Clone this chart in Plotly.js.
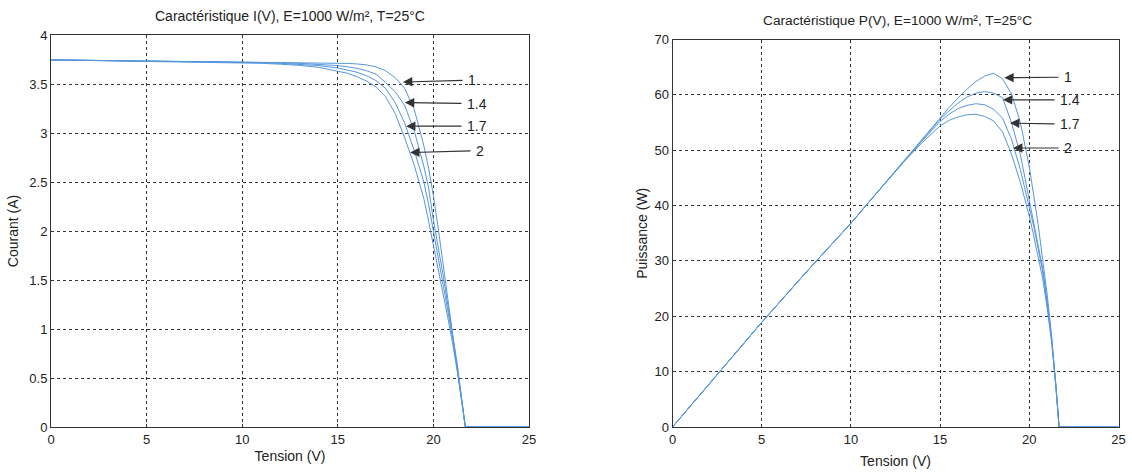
<!DOCTYPE html>
<html>
<head>
<meta charset="utf-8">
<script src="https://cdn.plot.ly/plotly-3.0.1.min.js"></script>
<style>
  html, body { margin: 0; padding: 0; background: #ffffff; }
  #chart { width: 1132px; height: 472px; }
</style>
</head>
<body>
<div id="chart"></div>
<script>
// ---- Data ----
const idealityLabels = ["1", "1.4", "1.7", "2"];

// I(V) characteristic
const voltIV = [0, 2, 4, 6, 8, 10, 11, 12, 13, 14, 15, 15.5, 16, 16.5, 17, 17.5, 18, 18.5, 19, 19.5, 19.75, 20, 20.25, 20.5, 20.75, 21, 21.25, 21.5, 21.67, 25];
const currN1  = [3.746, 3.742, 3.738, 3.734, 3.730, 3.726, 3.724, 3.722, 3.720, 3.717, 3.713, 3.710, 3.705, 3.695, 3.675, 3.635, 3.565, 3.455, 3.24, 2.87, 2.64, 2.36, 2.03, 1.68, 1.33, 0.98, 0.64, 0.27, 0, 0];
const currN14 = [3.746, 3.742, 3.738, 3.734, 3.729, 3.724, 3.721, 3.717, 3.711, 3.702, 3.688, 3.676, 3.660, 3.636, 3.600, 3.515, 3.42, 3.28, 3.02, 2.66, 2.44, 2.11, 1.84, 1.56, 1.25, 0.96, 0.64, 0.26, 0, 0];
const currN17 = [3.746, 3.742, 3.737, 3.733, 3.728, 3.722, 3.718, 3.711, 3.702, 3.688, 3.663, 3.645, 3.620, 3.585, 3.535, 3.455, 3.31, 3.10, 2.82, 2.50, 2.27, 2.00, 1.74, 1.47, 1.19, 0.91, 0.60, 0.245, 0, 0];
const currN2  = [3.746, 3.741, 3.736, 3.731, 3.725, 3.717, 3.711, 3.702, 3.690, 3.670, 3.635, 3.610, 3.575, 3.530, 3.470, 3.370, 3.20, 2.95, 2.67, 2.33, 2.10, 1.86, 1.63, 1.38, 1.12, 0.86, 0.57, 0.23, 0, 0];

// P(V) characteristic
const voltPV = [0, 2.5, 5, 7.5, 10, 11, 12, 13, 14, 15, 15.5, 16, 16.5, 17, 17.5, 18, 18.5, 19, 19.5, 20, 20.25, 20.5, 20.75, 21, 21.25, 21.5, 21.67, 25];
const powN1  = [0, 9.5, 18.9, 28.0, 36.8, 40.6, 44.4, 48.1, 51.9, 55.9, 57.7, 59.4, 61.0, 62.4, 63.4, 63.9, 62.9, 60.2, 55.0, 47.0, 42.0, 36.5, 30.2, 24.0, 16.5, 7.5, 0, 0];
const powN14 = [0, 9.5, 18.9, 28.0, 36.8, 40.6, 44.4, 48.1, 51.8, 55.6, 57.1, 58.5, 59.6, 60.3, 60.6, 60.3, 59.5, 55.0, 49.2, 41.0, 37.0, 32.6, 28.6, 22.8, 16.0, 7.3, 0, 0];
const powN17 = [0, 9.5, 18.9, 28.0, 36.8, 40.6, 44.4, 48.1, 51.7, 55.2, 56.5, 57.5, 58.1, 58.4, 58.2, 57.4, 55.8, 52.0, 46.5, 40.0, 36.2, 32.2, 28.0, 22.4, 15.8, 7.2, 0, 0];
const powN2  = [0, 9.5, 18.9, 28.0, 36.8, 40.6, 44.4, 48.0, 51.4, 54.4, 55.4, 56.0, 56.4, 56.5, 56.1, 55.3, 53.3, 49.3, 44.2, 38.1, 34.5, 30.8, 26.8, 21.5, 15.3, 7.0, 0, 0];

// Arrow annotations: tip (on curve) and label position, in data units
const ivArrowTipV   = [18.41, 18.51, 18.57, 18.78];
const ivArrowTipI   = [3.52, 3.31, 3.07, 2.80];
const ivLabelV      = [22.02, 22.28, 22.28, 22.44];
const ivLabelI      = [3.54, 3.30, 3.07, 2.82];
const pvArrowTipV   = [18.60, 18.52, 18.92, 19.09];
const pvArrowTipP   = [63.1, 59.1, 54.9, 50.4];
const pvLabelV      = [22.17, 22.28, 22.28, 22.17];
const pvLabelP      = [63.2, 59.1, 54.7, 50.4];

const titleIV = "Caractéristique I(V), E=1000 W/m², T=25°C";
const titlePV = "Caractéristique P(V), E=1000 W/m², T=25°C";

// ---- Build the figure ----
const FONT = "Liberation Sans, Arial, Helvetica, sans-serif";
const curveColor = "#5596dc";
const ivSeries = [currN1, currN14, currN17, currN2];
const pvSeries = [powN1, powN14, powN17, powN2];

const traces = [];
ivSeries.forEach((ys, k) => {
  traces.push({
    type: "scatter", mode: "lines", x: voltIV, y: ys,
    xaxis: "x", yaxis: "y", name: "n=" + idealityLabels[k],
    line: { color: curveColor, width: 1 }, showlegend: false, hoverinfo: "x+y"
  });
});
pvSeries.forEach((ys, k) => {
  traces.push({
    type: "scatter", mode: "lines", x: voltPV, y: ys,
    xaxis: "x2", yaxis: "y2", name: "n=" + idealityLabels[k],
    line: { color: curveColor, width: 1 }, showlegend: false, hoverinfo: "x+y"
  });
});

const W = 1132, H = 472;
const axisCommon = {
  showgrid: true, gridcolor: "#333333", griddash: "dot", gridwidth: 1,
  showline: true, mirror: true, linecolor: "#333333", linewidth: 1,
  zeroline: false, ticks: "inside", ticklen: 3, tickcolor: "#333333",
  tickfont: { family: FONT, size: 13, color: "#222222" },
  automargin: false, fixedrange: true
};
const titleFont = { family: FONT, size: 14, color: "#222222" };

const annotations = [];
idealityLabels.forEach((lab, k) => {
  annotations.push({
    xref: "x", yref: "y", x: ivArrowTipV[k], y: ivArrowTipI[k],
    axref: "x", ayref: "y", ax: ivLabelV[k], ay: ivLabelI[k],
    text: lab, showarrow: true, arrowhead: 2, arrowsize: 1.7, arrowwidth: 1.1,
    arrowcolor: "#333333", borderpad: 5,
    font: { family: FONT, size: 14, color: "#222222" }
  });
  annotations.push({
    xref: "x2", yref: "y2", x: pvArrowTipV[k], y: pvArrowTipP[k],
    axref: "x2", ayref: "y2", ax: pvLabelV[k], ay: pvLabelP[k],
    text: lab, showarrow: true, arrowhead: 2, arrowsize: 1.7, arrowwidth: 1.1,
    arrowcolor: "#333333", borderpad: 5,
    font: { family: FONT, size: 14, color: "#222222" }
  });
});
annotations.push({
  xref: "paper", yref: "paper", x: 290 / W, y: 1 - 16 / H, xanchor: "center", yanchor: "middle",
  text: titleIV, showarrow: false, font: { family: FONT, size: 14, color: "#222222" }
});
annotations.push({
  xref: "paper", yref: "paper", x: 897 / W, y: 1 - 21 / H, xanchor: "center", yanchor: "middle",
  text: titlePV, showarrow: false, font: { family: FONT, size: 13.7, color: "#222222" }
});

const layout = {
  width: W, height: H,
  margin: { l: 0, r: 0, t: 0, b: 0 },
  paper_bgcolor: "#ffffff", plot_bgcolor: "#ffffff",
  showlegend: false,
  font: { family: FONT, size: 13, color: "#222222" },
  xaxis: Object.assign({}, axisCommon, {
    domain: [51 / W, 529 / W], anchor: "y", range: [0, 25], tick0: 0, dtick: 5,
    title: { text: "Tension (V)", standoff: 5, font: titleFont }
  }),
  yaxis: Object.assign({}, axisCommon, {
    domain: [1 - 427 / H, 1 - 35 / H], anchor: "x", range: [0, 4], tick0: 0, dtick: 0.5,
    title: { text: "Courant (A)", standoff: 7, font: titleFont }
  }),
  xaxis2: Object.assign({}, axisCommon, {
    domain: [672.5 / W, 1118.5 / W], anchor: "y2", range: [0, 25], tick0: 0, dtick: 5,
    title: { text: "Tension (V)", standoff: 10, font: titleFont }
  }),
  yaxis2: Object.assign({}, axisCommon, {
    domain: [1 - 427 / H, 1 - 39.5 / H], anchor: "x2", range: [0, 70], tick0: 0, dtick: 10,
    title: { text: "Puissance (W)", standoff: 3, font: titleFont }
  }),
  annotations: annotations
};

Plotly.newPlot("chart", traces, layout, { displayModeBar: false, staticPlot: true });
</script>
</body>
</html>
